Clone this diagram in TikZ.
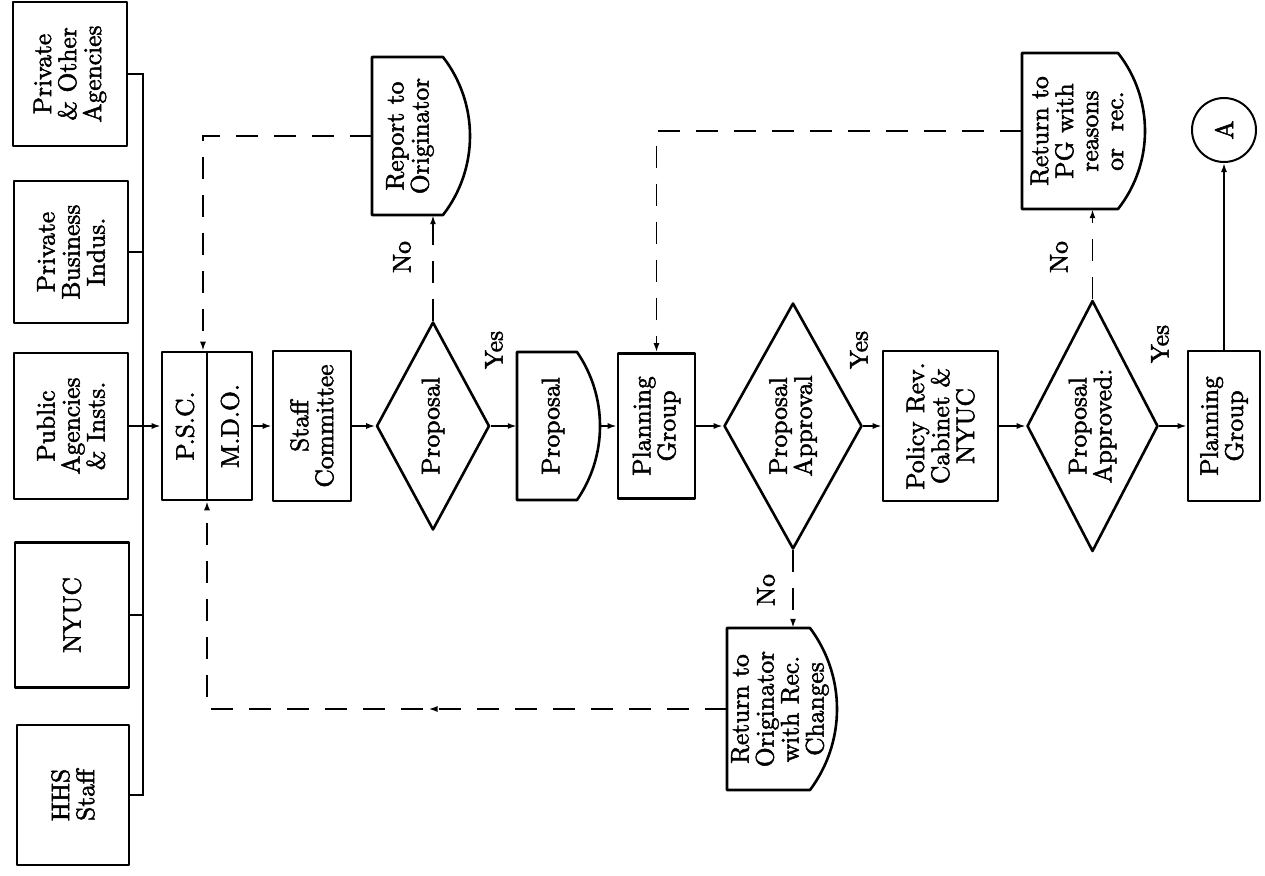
\documentclass[tikz,border=0pt]{standalone}
\usepackage{fontspec}
\setmainfont{lmroman10-regular}[Extension=.otf,AutoFakeBold=2]
\usetikzlibrary{shapes.geometric,arrows.meta,decorations.markings}
\begin{document}
\begin{tikzpicture}[x=1pt,y=-1pt,
  shp/.style={draw=black,line width=2.6pt,inner sep=0pt,line join=round},
  box/.style={shp,rectangle},
  dia/.style={shp,diamond},
  ghost/.style={inner sep=0pt,rectangle},
  txt/.style={rotate=90,align=center,font=\bfseries\fontsize{25.5}{25}\selectfont,inner sep=0pt},
  tip/.style={-{Latex[length=9pt,width=6pt]}},
  conn/.style={line width=1.7pt,tip},
  plain/.style={line width=1.7pt},
  dsh/.style={line width=1.7pt,dash pattern=on 22pt off 16pt}
]
\useasboundingbox (0,0) rectangle (1265,875);
\fill[white] (0,0) rectangle (1265,875);

% source boxes
\node[box,minimum width=114pt,minimum height=144pt] (poa) at (70,74) {};
\node[txt] (tpoa) at (poa) {Private\\\& Other\\Agencies};
\node[box,minimum width=114pt,minimum height=142pt] (pbi) at (71,252) {};
\node[txt] (tpbi) at (pbi) {Private\\Business\\Indus.};
\node[box,minimum width=114pt,minimum height=146pt] (pai) at (71,426) {};
\node[txt] (tpai) at (pai) {Public\\Agencies\\\& Insts.};
\node[box,minimum width=114pt,minimum height=145pt] (nyuc) at (72,615) {};
\node[txt] (tnyuc) at (nyuc) {NYUC};
\node[box,minimum width=112pt,minimum height=140pt] (hhs) at (73,795) {};
\node[txt] (thhs) at (hhs) {HHS\\Staff};

\coordinate (bus) at (143,0);
\draw[plain] (poa.east) -- (poa.east -| bus) -- (hhs.east -| bus) -- (hhs.east);
\draw[plain] (pbi.east) -- (pbi.east -| bus);
\draw[plain] (nyuc.east) -- (nyuc.east -| bus);

% PSC / MDO
\node[box,minimum width=90pt,minimum height=148pt] (psc) at (207,426) {};
\draw[line width=2.6pt] (psc.north) -- (psc.south);
\node[txt] (tpsc) at (185,426) {P.S.C.};
\node[txt] (tmdo) at (230,426) {M.D.O.};
\draw[conn] (pai.east) -- (pai.east -| psc.west);

% Staff committee
\node[box,minimum width=78pt,minimum height=150pt] (stf) at (312,426) {};
\node[txt] (tstf) at (stf) {Staff\\Committee};
\draw[conn] (psc.east) -- (stf.west);

% Decision 1
\node[dia,minimum width=113pt,minimum height=208pt] (d1) at (433,426) {};
\node[txt] (td1) at (d1) {Proposal};
\draw[conn] (stf.east) -- (d1.west);

% Report to originator
\node[ghost,minimum width=98pt,minimum height=158pt] (rep) at (421,136) {};
\draw[shp] (372,57) -- (443,57) .. controls (460.5,79.6) and (470,107.4) .. (470,136)
  .. controls (470,164.6) and (460.5,192.4) .. (443,215) -- (372,215) -- cycle;
\node[txt] (trep) at (410,136) {Report to\\Originator};
\draw[dsh,tip] (d1.north) -- (d1.north |- rep.south);
\node[txt] (no1) at (402,257) {No};

\coordinate (fbtop) at (203,0);
\draw[dsh,tip] (rep.west) -| (fbtop |- psc.north);

% Proposal display
\node[ghost,minimum width=83pt,minimum height=148pt] (prop) at (558.5,426) {};
\draw[shp] (517,352) -- (577,352) .. controls (592,373.8) and (600,399.6) .. (600,426)
  .. controls (600,452.4) and (592,478.2) .. (577,500) -- (517,500) -- cycle;
\node[txt] (tprop) at (553,426) {Proposal};
\draw[conn] (d1.east) -- (prop.west);
\node[txt] (yes1) at (494,350) {Yes};

% Planning group 1
\node[box,minimum width=77pt,minimum height=145pt] (pg1) at (656.5,426) {};
\node[txt] (tpg1) at (pg1) {Planning\\Group};
\draw[conn] (prop.east) -- (pg1.west);

% Decision 2
\node[dia,minimum width=138pt,minimum height=246pt] (d2) at (793,426) {};
\node[txt] (td2) at (d2) {Proposal\\Approval};
\draw[conn] (pg1.east) -- (d2.west);
\node[txt] (yes2) at (859,350) {Yes};

% Return to originator
\node[ghost,minimum width=110pt,minimum height=162pt] (ret) at (782,709) {};
\draw[shp] (727,628) -- (810,628) .. controls (827.5,651.4) and (837,679.8) .. (837,709)
  .. controls (837,738.2) and (827.5,766.6) .. (810,790) -- (727,790) -- cycle;
\node[txt] (tret) at (780,709) {Return to\\Originator\\with Rec.\\Changes};
\draw[dsh,tip] (d2.south) -- (d2.south |- ret.north);
\node[txt] (no2) at (766,590) {No};

\coordinate (fbbot) at (207,0);
\draw[dsh,tip,postaction={decorate,decoration={markings,mark=at position 0.41 with {\arrow{Latex[length=9pt,width=6pt]}}}}]
  (ret.west) -| (fbbot |- psc.south);

% Policy review
\node[box,minimum width=115pt,minimum height=150pt] (pol) at (940.5,426) {};
\node[txt] (tpol) at (pol) {Policy Rev.\\Cabinet \&\\NYUC};
\draw[conn] (d2.east) -- (pol.west);

% Decision 3
\node[dia,minimum width=131pt,minimum height=251pt] (d3) at (1092.5,426) {};
\node[txt] (td3) at (d3) {Proposal\\Approved:};
\draw[conn] (pol.east) -- (d3.west);
\node[txt] (yes3) at (1160,344) {Yes};

% Return to PG
\node[ghost,minimum width=123pt,minimum height=156pt] (rpg) at (1083.5,131) {};
\draw[shp] (1022,53) -- (1118,53) .. controls (1135.5,75.2) and (1145,102.7) .. (1145,131)
  .. controls (1145,159.3) and (1135.5,186.8) .. (1118,209) -- (1022,209) -- cycle;
\node[txt] (trpg) at (1077,131) {Return to\\PG with\\reasons\\or~~rec.};
\draw[dsh,tip] (d3.north) -- (d3.north |- rpg.south);
\node[txt] (no3) at (1059,257) {No};

\draw[dsh,tip] (rpg.west) -| (pg1.north);

% Planning group 2
\node[box,minimum width=72pt,minimum height=150pt] (pg2) at (1224,426) {};
\node[txt] (tpg2) at (pg2) {Planning\\Group};
\draw[conn] (d3.east) -- (pg2.west);

% Connector A
\node[draw=black,line width=2pt,circle,minimum size=64pt,inner sep=0pt] (A) at (1224,130) {};
\node[txt] (tA) at (A) {A};
\draw[conn] (pg2.north) -- (A.south);
\end{tikzpicture}
\end{document}
